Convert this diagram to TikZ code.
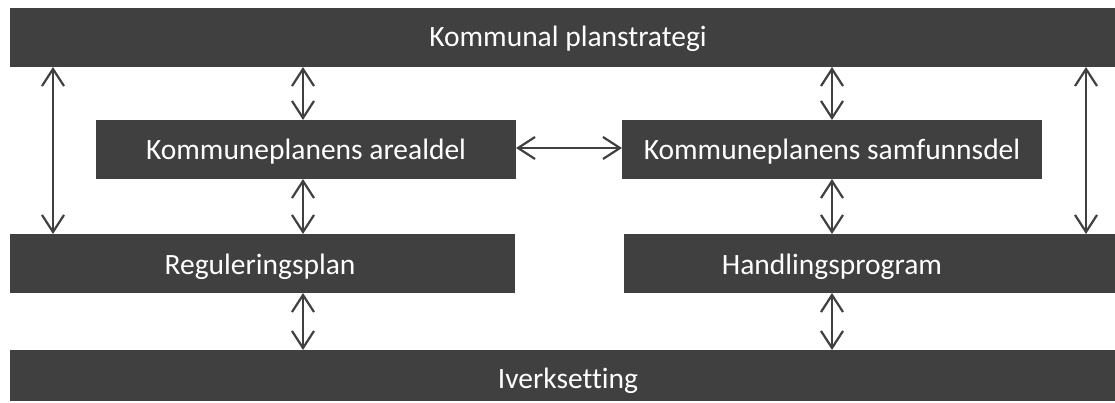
\documentclass[tikz,border=0pt]{standalone}
\usepackage{fontspec}
\setmainfont{Carlito}[Ligatures={NoCommon}]
\usetikzlibrary{arrows.meta}
\definecolor{barfill}{HTML}{404040}
\definecolor{linkcol}{HTML}{404040}
\tikzset{
  bar/.style={fill=barfill, draw=none, inner sep=0pt},
  lbl/.style={text=white, font=\fontsize{29.5}{33}\selectfont, inner sep=0pt, anchor=base},
  link/.style={draw=linkcol, line width=2.2pt,
    {Straight Barb[length=17pt,width=22pt,line width=2.2pt]}-{Straight Barb[length=17pt,width=22pt,line width=2.2pt]}}
}
\begin{document}
\begin{tikzpicture}[x=1pt,y=-1pt]
\useasboundingbox (0,0) rectangle (1115,403);
% boxes
\fill[bar] (10,8) rectangle (1115,67);
\fill[bar] (96,120) rectangle (516,179);
\fill[bar] (622,120) rectangle (1042,179);
\fill[bar] (10,234) rectangle (515,293);
\fill[bar] (624,234) rectangle (1115,293);
\fill[bar] (10,350) rectangle (1115,401);
% labels (placed on their baselines)
\node[lbl] (strat) at (568,47) {Kommunal planstrategi};
\node[lbl] (areal) at (306,160) {Kommuneplanens arealdel};
\node[lbl] (samf) at (832,160) {Kommuneplanens samfunnsdel};
\node[lbl] (reg) at (260,274) {Reguleringsplan};
\node[lbl] (hand) at (832,274) {Handlingsprogram};
\node[lbl] (iverk) at (568,388) {Iverksetting};
% anchor points on the box edges
\coordinate (sL) at (53,67);   \coordinate (rL) at (53,234);
\coordinate (sA) at (303,67);  \coordinate (aT) at (303,120);
\coordinate (aB) at (303,179); \coordinate (rT) at (303,234);
\coordinate (rB) at (303,293); \coordinate (iA) at (303,350);
\coordinate (sS) at (832,67);  \coordinate (fT) at (832,120);
\coordinate (fB) at (832,179); \coordinate (hT) at (832,234);
\coordinate (hB) at (832,293); \coordinate (iS) at (832,350);
\coordinate (sR) at (1086,67); \coordinate (hR) at (1086,234);
\coordinate (aR) at (516,148); \coordinate (fL) at (622,148);
% connectors
\draw[link] (sL) -- (rL);
\draw[link] (sA) -- (aT);
\draw[link] (aB) -- (rT);
\draw[link] (rB) -- (iA);
\draw[link] (sS) -- (fT);
\draw[link] (fB) -- (hT);
\draw[link] (hB) -- (iS);
\draw[link] (sR) -- (hR);
\draw[link] (aR) -- (fL);
\end{tikzpicture}
\end{document}
